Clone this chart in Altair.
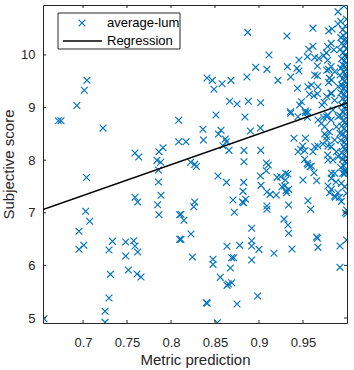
import altair as alt
import pandas as pd

# ---- data ----
metric_prediction = [
    0.672, 0.675, 0.693, 0.7015, 0.7045, 0.7227, 0.759, 0.7633, 0.7909, 0.7863,
    0.784, 0.7882, 0.7857, 0.8087, 0.8087, 0.704, 0.703, 0.7076, 0.6954, 0.6954,
    0.7008, 0.7295, 0.7334, 0.7311, 0.7295, 0.725, 0.725, 0.6556, 0.7485, 0.7485,
    0.7515, 0.7576, 0.7591, 0.7621, 0.7613, 0.7659, 0.7591, 0.7621, 0.7857, 0.7886,
    0.7848, 0.7863, 0.8098, 0.8098,
    0.8871, 0.9113, 0.8962, 0.909, 0.8863, 0.8409, 0.847, 0.858, 0.8681, 0.8488,
    0.8667, 0.875, 0.8879, 0.9019, 0.8511, 0.884, 0.8363, 0.8568, 0.8538, 0.8902,
    0.9016, 0.817, 0.8368, 0.8617, 0.8629, 0.859, 0.8659, 0.8829, 0.9019, 0.8829,
    0.8223, 0.8269, 0.8288, 0.9083,
    0.8534, 0.863, 0.8826, 0.9016, 0.9023, 0.8818, 0.8704, 0.881, 0.8848, 0.8826,
    0.872, 0.8269, 0.8258, 0.8113, 0.8147, 0.8113, 0.8227, 0.8243, 0.8917, 0.8917,
    0.8917, 0.8999, 0.878, 0.8636, 0.8917, 0.8477, 0.8477, 0.869, 0.8712, 0.8674,
    0.856, 0.8636, 0.869, 0.8652, 0.8985, 0.8402, 0.8412, 0.875, 0.8527, 0.9106,
    0.9083, 0.909, 0.909, 0.909,
    0.9613, 0.9792, 0.983, 0.9318, 0.9322, 0.9215, 0.9454, 0.9432, 0.9454, 0.936,
    0.955, 0.9565, 0.9613, 0.9633, 0.9679, 0.9736, 0.9766, 0.9664, 0.9633, 0.9664,
    0.9792, 0.9792, 0.9823, 0.9436, 0.9556, 0.9595, 0.9572, 0.9625, 0.9664, 0.967,
    0.9482, 0.9462, 0.974, 0.9716, 0.9823, 0.9357, 0.9527, 0.9556,
    0.936, 0.9443, 0.9527, 0.955, 0.967, 0.9709, 0.9746, 0.9769, 0.9732, 0.9746,
    0.9769, 0.9397, 0.9527, 0.9496, 0.9473, 0.9443, 0.9519, 0.9633, 0.967, 0.9727,
    0.9784, 0.9613, 0.9784, 0.9519, 0.9556, 0.9579, 0.9595, 0.955, 0.9655, 0.95,
    0.9246, 0.9329, 0.93, 0.9292, 0.9307, 0.9337, 0.9261, 0.9314, 0.9125, 0.9337,
    0.9556, 0.9587, 0.9784, 0.9803, 0.9284,
    0.9329, 0.9337, 0.917, 0.9375, 0.9655, 0.9664, 0.967,
    0.9625, 0.9822, 0.986, 0.9954, 0.9973, 0.9204, 0.9303, 0.9197,
    0.9995, 0.992, 0.992, 0.9996, 0.9996, 0.9981, 0.9995, 0.9936, 0.986, 0.9897,
    0.9822, 0.9868, 0.9913, 0.9875, 0.9936, 0.9973, 0.9822,
    0.9966, 0.9898, 0.9995, 0.9928, 0.9898, 0.982, 0.978, 0.985, 0.978, 0.982,
    0.977, 0.986, 0.980, 0.990, 0.982, 0.977, 0.986, 0.984, 0.978, 0.990,
    0.982, 0.988, 0.980, 0.977, 0.986, 0.992, 0.982, 0.988, 0.978, 0.990, 0.984,
    0.998, 0.995, 0.999, 0.996, 0.993, 0.998, 0.999, 0.994, 0.997, 0.999,
    0.992, 0.996, 0.998, 0.999, 0.994, 0.997, 0.999, 0.995, 0.998, 0.993,
    0.999, 0.996, 0.998, 0.992, 0.999, 0.995, 0.997, 0.999, 0.994, 0.998,
    0.996, 0.999, 0.993, 0.997, 0.999, 0.995, 0.998, 0.999, 0.994, 0.997,
    0.999, 0.995, 0.998, 0.992, 0.999, 0.996, 0.998, 0.999, 0.994, 0.997,
    0.999, 0.995, 0.998, 0.999, 0.993, 0.997, 0.999, 0.996, 0.998, 0.999,
    0.994, 0.997, 0.999, 0.995, 0.998, 0.999, 0.996, 0.993, 0.998, 0.999, 0.997,
]
subjective_score = [
    8.75, 8.75, 9.04, 9.33, 9.52, 8.61, 8.136, 8.06, 8.237, 8.16,
    7.997, 7.96, 7.813, 8.76, 8.35, 7.67, 7.028, 6.838, 6.648, 6.306,
    6.382, 6.292, 6.457, 5.83, 5.38, 5.127, 4.917, 4.986, 6.444, 6.178,
    5.912, 6.469, 6.368, 6.254, 5.836, 5.779, 7.294, 7.205, 7.585, 7.332,
    7.153, 6.963, 6.963, 6.495,
    10.43, 10.0, 9.765, 9.727, 9.581, 9.562, 9.518, 9.454, 9.518, 9.347,
    9.119, 9.068, 9.119, 9.093, 8.859, 8.821, 8.587, 8.568, 8.498, 8.555,
    8.612, 8.35, 8.383, 8.403, 8.35, 8.275, 8.187, 8.187, 8.187, 7.97,
    7.96, 7.92, 7.88, 7.946,
    7.699, 7.579, 7.579, 7.699, 7.522, 7.408, 7.243, 7.205, 7.256, 7.19,
    7.009, 7.205, 7.115, 6.971, 6.857, 6.495, 6.596, 6.159, 6.705, 6.469,
    6.368, 6.305, 6.381, 6.363, 6.102, 6.116, 6.02, 6.146, 6.146, 5.95,
    5.773, 5.621, 5.67, 5.646, 5.418, 5.29, 5.28, 5.266, 4.91, 7.908,
    7.8, 7.395, 7.129, 7.066,
    10.51, 10.456, 10.494, 10.36, 9.778, 9.518, 9.904, 9.747, 9.695, 9.581,
    9.968, 10.11, 10.165, 9.95, 9.937, 9.987, 10.04, 9.79, 9.619, 9.606,
    9.727, 9.48, 9.524, 9.366, 9.397, 9.43, 9.252, 9.226, 9.264, 9.397,
    9.112, 9.05, 9.1, 9.05, 9.27, 8.922, 8.935, 8.91,
    8.891, 8.826, 8.902, 8.815, 8.764, 8.701, 8.636, 8.826, 8.815, 8.498,
    8.383, 8.416, 8.416, 8.269, 8.207, 8.16, 8.18, 8.256, 8.269, 8.307,
    8.269, 8.16, 8.003, 8.016, 7.908, 7.876, 7.889, 7.94, 7.61, 7.623,
    7.686, 7.737, 7.623, 7.509, 7.419, 7.446, 7.496, 7.381, 7.35, 7.148,
    7.23, 7.066, 7.509, 7.381, 6.88,
    6.768, 6.61, 6.23, 6.311, 6.539, 6.515, 6.343,
    7.762, 7.75, 7.75, 7.75, 7.78, 7.674, 7.75, 7.338,
    6.482, 6.368, 5.963, 7.053, 6.976, 7.0, 7.37, 7.217, 7.318, 7.381,
    7.446, 7.294, 7.294, 7.585, 7.56, 7.496, 7.655,
    10.93, 10.82, 10.68, 10.64, 10.59, 10.22, 10.16, 10.1, 9.9, 9.78,
    9.71, 9.68, 9.56, 9.4, 9.27, 9.21, 9.14, 8.954, 8.859, 8.826,
    8.764, 8.636, 8.541, 8.446, 8.383, 8.51, 8.257, 8.162, 8.099, 8.067, 8.003,
    10.55, 10.48, 10.42, 10.37, 10.33, 10.3, 10.25, 10.22, 10.18, 10.12,
    10.1, 10.05, 10.0, 9.96, 9.93, 9.89, 9.85, 9.82, 9.78, 9.75,
    9.72, 9.68, 9.64, 9.62, 9.58, 9.55, 9.5, 9.47, 9.43, 9.4,
    9.36, 9.32, 9.28, 9.25, 9.2, 9.17, 9.12, 9.08, 9.05, 9.0,
    8.96, 8.92, 8.88, 8.85, 8.8, 8.76, 8.72, 8.68, 8.65, 8.6,
    8.55, 8.5, 8.46, 8.42, 8.38, 8.34, 8.3, 8.26, 8.22, 8.18,
    8.14, 8.1, 8.06, 8.02, 7.98, 7.94, 7.9, 7.86, 7.82, 7.78, 7.74,
]
regression_x = [0.6545, 1.0]
regression_y = [7.06, 9.09]
x_ticks = [0.7, 0.75, 0.8, 0.85, 0.9, 0.95]
y_ticks = [5, 6, 7, 8, 9, 10]
legend_labels = ["average-lum", "Regression"]

n = min(len(metric_prediction), len(subjective_score))
df = pd.DataFrame({"x": metric_prediction[:n], "y": subjective_score[:n]})
reg = pd.DataFrame({"x": regression_x, "y": regression_y})
xt = pd.DataFrame({"x": x_ticks})
yt = pd.DataFrame({"y": y_ticks})
one = pd.DataFrame({"a": [0]})

W, H = 304, 318
FONT = "Liberation Sans"
AX = "#262626"
BLUE = "#0072BD"
XSHAPE = "M-1,-1L1,1M-1,1L1,-1"

xs = alt.Scale(domain=[0.6545, 1.0], nice=False, zero=False)
ys = alt.Scale(domain=[4.905, 10.95], nice=False, zero=False)

x_axis = alt.Axis(
    values=x_ticks, format=".2~f", grid=False, domain=False, ticks=False,
    labelPadding=13, labelFontSize=13, labelColor=AX, labelFont=FONT,
    title="Metric prediction", titleFontSize=15, titleFont=FONT,
    titleFontWeight="normal", titleColor=AX, titlePadding=3)
y_axis = alt.Axis(
    values=y_ticks, grid=False, domain=False, ticks=False,
    labelPadding=8, labelFontSize=13, labelColor=AX, labelFont=FONT,
    title="Subjective score", titleFontSize=15, titleFont=FONT,
    titleFontWeight="normal", titleColor=AX, titlePadding=4)

X = alt.X("x:Q", scale=xs, axis=x_axis)
Y = alt.Y("y:Q", scale=ys, axis=y_axis)

pts = alt.Chart(df).mark_point(
    shape=XSHAPE, size=46, strokeWidth=1.15, color=BLUE, filled=False, opacity=1, clip=True
).encode(x=X, y=Y)

line = alt.Chart(reg).mark_line(color="black", strokeWidth=1.5, clip=True).encode(x=X, y=Y)

tb = alt.Chart(xt).mark_rule(color=AX, strokeWidth=1).encode(
    x=X, y=alt.value(H), y2=alt.value(H - 3))
tt = alt.Chart(xt).mark_rule(color=AX, strokeWidth=1).encode(
    x=X, y=alt.value(0), y2=alt.value(3))
tl = alt.Chart(yt).mark_rule(color=AX, strokeWidth=1).encode(
    y=Y, x=alt.value(0), x2=alt.value(3))
tr = alt.Chart(yt).mark_rule(color=AX, strokeWidth=1).encode(
    y=Y, x=alt.value(W), x2=alt.value(W - 3))

leg_box = alt.Chart(one).mark_rect(fill="white", stroke=AX, strokeWidth=1).encode(
    x=alt.value(15), x2=alt.value(137), y=alt.value(8), y2=alt.value(44))
leg_pt = alt.Chart(one).mark_point(
    shape=XSHAPE, size=46, strokeWidth=1.15, color=BLUE, filled=False, opacity=1
).encode(x=alt.value(39), y=alt.value(18))
leg_ln = alt.Chart(one).mark_rule(color="black", strokeWidth=1.5).encode(
    x=alt.value(20), x2=alt.value(59), y=alt.value(36))
leg_t1 = alt.Chart(one).mark_text(
    align="left", baseline="middle", fontSize=13, font=FONT, color="black"
).encode(x=alt.value(64), y=alt.value(18), text=alt.value(legend_labels[0]))
leg_t2 = alt.Chart(one).mark_text(
    align="left", baseline="middle", fontSize=13, font=FONT, color="black"
).encode(x=alt.value(64), y=alt.value(36), text=alt.value(legend_labels[1]))

chart = alt.layer(
    pts, line, tb, tt, tl, tr, leg_box, leg_pt, leg_ln, leg_t1, leg_t2
).properties(
    width=W, height=H,
    autosize=alt.AutoSizeParams(type="none"),
    padding={"left": 43, "top": 5, "right": 7, "bottom": 47},
    background="white",
).configure_view(stroke=AX, strokeWidth=1)

chart.save("out.html", embed_options={"renderer": "svg", "actions": False})
